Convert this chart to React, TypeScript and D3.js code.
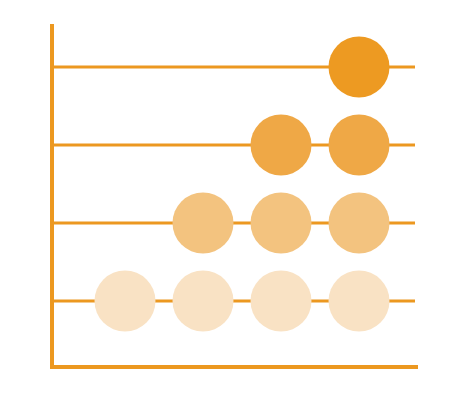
import React from "react";
import * as d3 from "d3";

// rows top to bottom, each with how many dots sit on it (right-aligned)
const rowNames = ["r1", "r2", "r3", "r4"];
const rowCounts = [1, 2, 3, 4];
const rowColors = ["#ED9A22", "#EFA846", "#F3C37F", "#F9E2C4"];
const columns = [1, 2, 3, 4];

const width = 475;
const height = 400;
const axisColor = "#EC9820";

export default function App() {
  const x = d3.scalePoint<number>().domain(columns).range([125, 359]);
  const y = d3.scalePoint<string>().domain(rowNames).range([67, 301]);
  const r = 30.5;

  const dots = rowNames.flatMap((row, i) =>
    columns.slice(columns.length - rowCounts[i]).map((c) => ({ row, c, color: rowColors[i] }))
  );

  return (
    <svg
      width={width}
      height={height}
      style={{ position: "fixed", left: 0, top: 0, background: "#fff" }}
    >
      {rowNames.map((row) => (
        <line
          key={row}
          x1={52}
          x2={415}
          y1={y(row)}
          y2={y(row)}
          stroke={axisColor}
          strokeWidth={3.2}
        />
      ))}
      {dots.map((d) => (
        <circle key={d.row + d.c} cx={x(d.c)} cy={y(d.row)} r={r} fill={d.color} />
      ))}
      <line x1={52} x2={52} y1={24} y2={369} stroke={axisColor} strokeWidth={4} />
      <line x1={50} x2={418} y1={367} y2={367} stroke={axisColor} strokeWidth={4} />
    </svg>
  );
}
